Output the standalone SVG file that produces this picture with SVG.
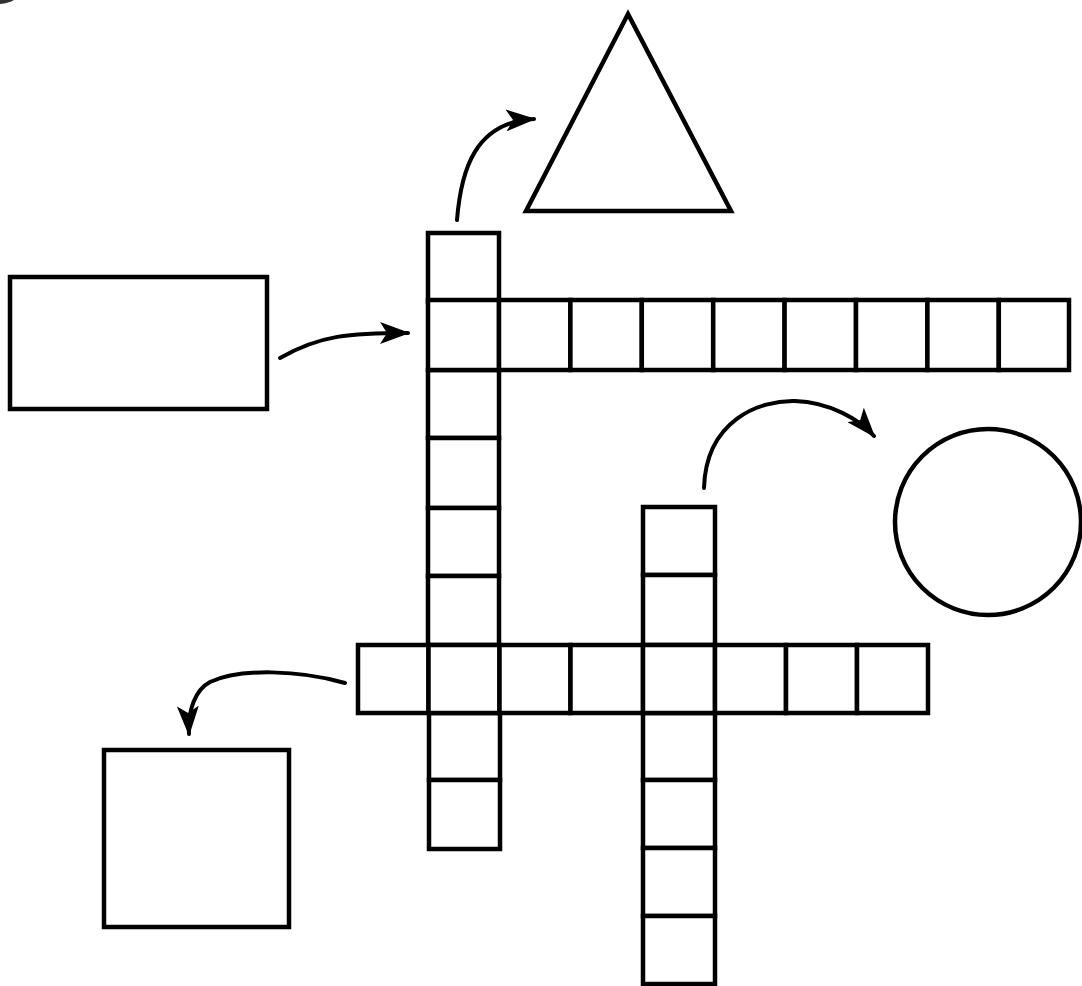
<svg xmlns="http://www.w3.org/2000/svg" width="1082" height="986" viewBox="0 0 1082 986">
<style>
.s{fill:#fff;stroke:#000;stroke-width:4.5;stroke-linejoin:miter}
.c{fill:#fff;stroke:#000;stroke-width:4.5}
.a{fill:none;stroke:#000;stroke-width:4;stroke-linecap:round}
</style>
<defs>
<marker id="ah2" viewBox="0 0 30 22" refX="28" refY="11" markerWidth="30" markerHeight="22" markerUnits="userSpaceOnUse" orient="auto">
<path d="M0,0 L30,11 L0,22 L7,11 Z" fill="#000"/>
</marker>
</defs>
<rect width="1082" height="986" fill="#fff"/>
<path d="M0,0 L14,0 Q9,3 0,4 Z" fill="#333"/>
<g id="rect-node"><rect class="s" x="10" y="277" width="257" height="132"/></g>
<g id="triangle-node"><polygon class="s" points="628,14 731,211 526,211"/></g>
<g id="circle-node"><circle class="s" cx="988" cy="522" r="93"/></g>
<g id="square-node"><rect class="s" x="104" y="750" width="185" height="177"/></g>
<g id="column-1">
<rect class="c" x="428" y="233" width="71" height="69"/>
<rect class="c" x="428" y="370" width="71" height="68"/>
<rect class="c" x="428" y="438" width="71" height="70"/>
<rect class="c" x="428" y="508" width="71" height="68"/>
<rect class="c" x="428" y="576" width="71" height="69"/>
<rect class="c" x="429" y="713" width="71" height="67"/>
<rect class="c" x="429" y="780" width="71" height="69"/>
</g>
<g id="row-1">
<rect class="c" x="428" y="300" width="71" height="70"/>
<rect class="c" x="499" y="300" width="71.4" height="70"/>
<rect class="c" x="570.4" y="300" width="71.4" height="70"/>
<rect class="c" x="641.8" y="300" width="71.4" height="70"/>
<rect class="c" x="713.2" y="300" width="71.4" height="70"/>
<rect class="c" x="784.6" y="300" width="71.4" height="70"/>
<rect class="c" x="856" y="300" width="71.4" height="70"/>
<rect class="c" x="927.4" y="300" width="71.4" height="70"/>
<rect class="c" x="998.8" y="300" width="70.2" height="70"/>
</g>
<g id="column-2">
<rect class="c" x="643" y="507" width="72" height="68"/>
<rect class="c" x="643" y="575" width="72" height="70"/>
<rect class="c" x="643" y="713" width="72" height="67"/>
<rect class="c" x="643" y="780" width="72" height="68"/>
<rect class="c" x="643" y="848" width="72" height="68"/>
<rect class="c" x="643" y="916" width="72" height="68"/>
</g>
<g id="row-2">
<rect class="c" x="358" y="645" width="70.5" height="68"/>
<rect class="c" x="428.5" y="645" width="71" height="68"/>
<rect class="c" x="499.5" y="645" width="71" height="68"/>
<rect class="c" x="570.5" y="645" width="72.5" height="68"/>
<rect class="c" x="643" y="645" width="72" height="68"/>
<rect class="c" x="715" y="645" width="71" height="68"/>
<rect class="c" x="786" y="645" width="71" height="68"/>
<rect class="c" x="857" y="645" width="71" height="68"/>
</g>
<g id="connectors">
<path class="a" d="M457,220 C461,170 475,122 534,119" marker-end="url(#ah2)"/>
<path class="a" d="M280,358 C320,335 350,333 408,333" marker-end="url(#ah2)"/>
<path class="a" d="M704,488 C706,420 760,400 795,401 C830,402 860,420 874,436" marker-end="url(#ah2)"/>
<path class="a" d="M345,683 C300,670 240,668 210,682 C195,690 188,710 189,734" marker-end="url(#ah2)"/>
</g>
</svg>
